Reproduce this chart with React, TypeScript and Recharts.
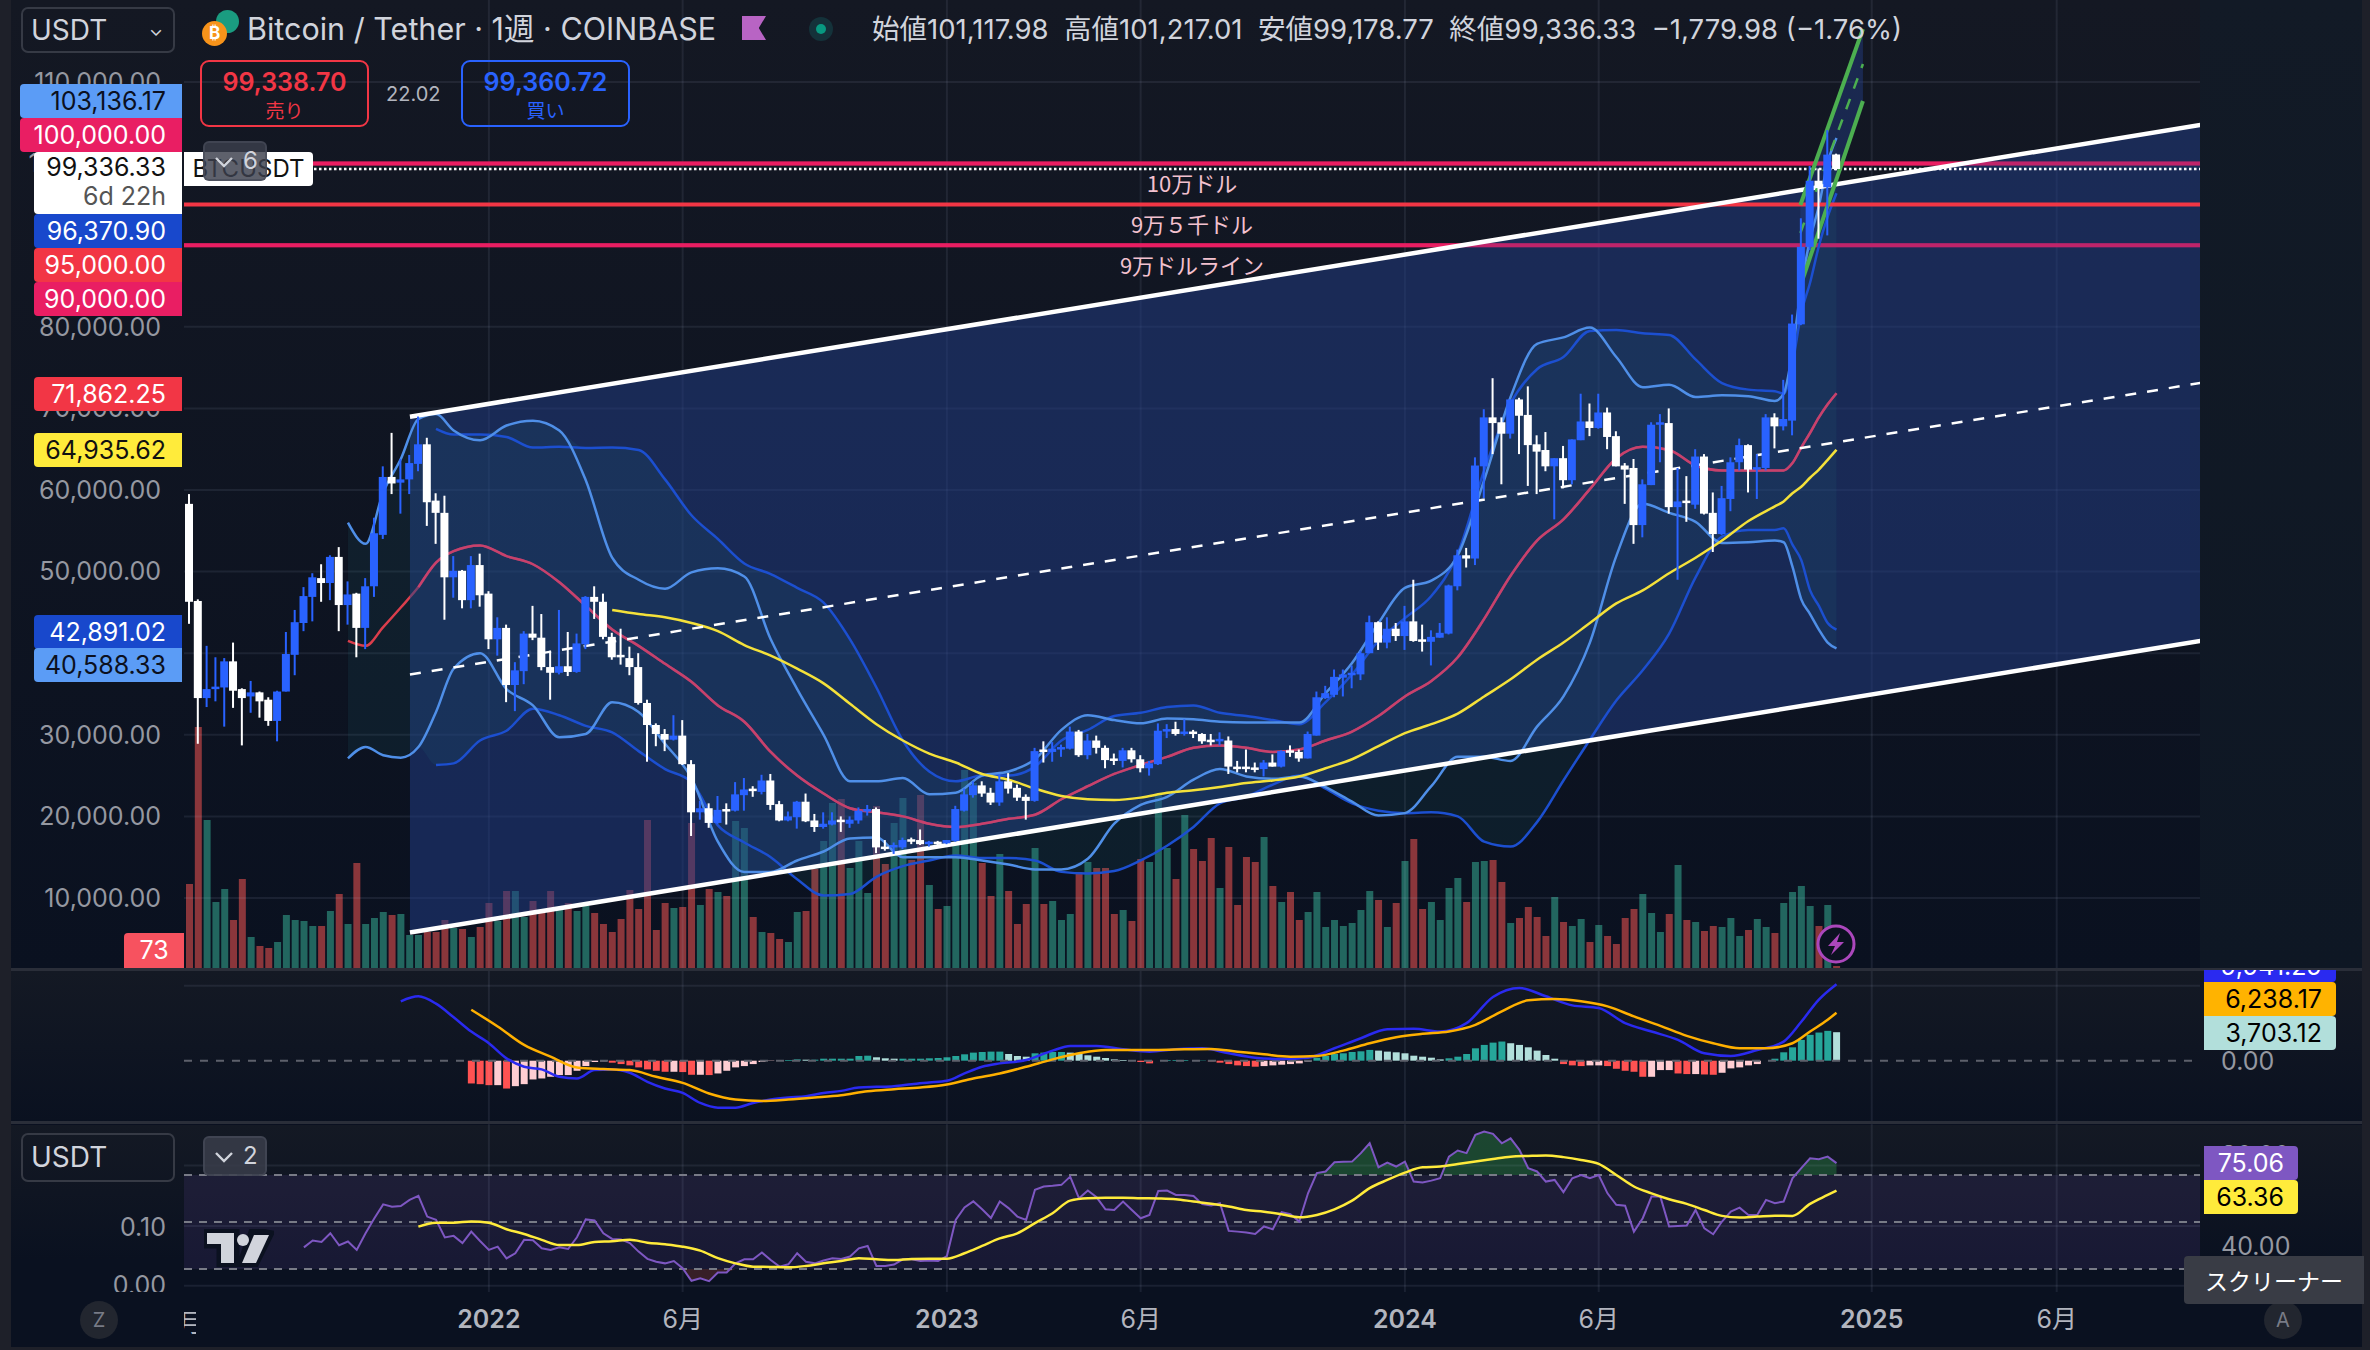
import { Bar, ComposedChart, Area, Line, ReferenceArea, ReferenceLine, XAxis, YAxis } from "recharts";

const uiFont = "Inter, 'Noto Sans CJK JP', sans-serif";
const jpFont = "'Noto Sans CJK JP', sans-serif";

// weekly candles, May 2021 to Dec 2024
const opens = [
  58300, 46400, 34500, 35800, 35800, 39000, 35600, 34700, 35200, 34300, 31700, 35300, 39800, 43700, 46900, 49200, 48600, 51800, 45900, 47300,
  43100, 48200, 54500, 61600, 60900, 61300, 63200, 65600, 58700, 57200, 49300, 50100, 46500, 50800, 47300, 41700, 43100, 36100, 37800, 42400,
  41900, 38300, 37600, 38400, 37700, 41100, 46900, 46300, 42000, 39800, 39400, 38300, 33900, 31200, 30100, 29400, 29900, 26400, 20500, 21000,
  19200, 20900, 20700, 22600, 23400, 23000, 24400, 21500, 19500, 19900, 21800, 19500, 18700, 19000, 19600, 19100, 19500, 20700, 20900, 16300,
  16200, 16200, 17200, 17100, 16600, 16900, 16700, 17000, 20700, 22600, 23800, 22900, 21700, 24300, 23500, 22400, 21900, 28200, 27900, 28200,
  28300, 30400, 27500, 29300, 28400, 27100, 26800, 28100, 27000, 25900, 26400, 30400, 30700, 30100, 30400, 30100, 29400, 29200, 29300, 26100,
  26100, 26000, 25800, 26600, 26100, 28100, 27900, 27100, 29900, 34500, 34900, 37000, 37300, 37400, 40000, 43800, 41300, 43000, 42100, 43900,
  41700, 41400, 41900, 42400, 48200, 52000, 51600, 62900, 68900, 68300, 66900, 71100, 69200, 65600, 64900, 62900, 63900, 61200, 66100, 68400,
  67600, 69500, 66600, 63000, 62700, 55700, 60600, 68000, 68200, 57900, 58700, 58200, 64100, 57200, 54600, 58900, 63400, 65500, 62600, 62700,
  68900, 67800, 68500, 80300, 89800, 97900, 97100, 101118,
];
const highs = [
  59500, 46600, 40900, 39500, 39400, 41300, 35700, 36600, 35300, 34600, 35400, 42600, 45300, 48100, 49800, 50900, 52000, 53000, 48800, 47400,
  49200, 56600, 62900, 67000, 63800, 64300, 69000, 66400, 59600, 59300, 51900, 50200, 51900, 52200, 47600, 44400, 43500, 38900, 42700, 45800,
  44800, 40300, 45300, 42600, 42400, 47000, 48200, 47300, 42500, 43000, 40800, 40000, 34300, 31400, 30700, 32400, 31800, 26900, 21900, 21600,
  22500, 21600, 24200, 24700, 23700, 25100, 25200, 21900, 20600, 21900, 22800, 20300, 20500, 20500, 20000, 20000, 21100, 21400, 21100, 17100,
  16800, 17400, 17400, 18400, 17000, 17000, 17100, 21300, 23400, 24300, 24300, 23500, 25200, 25300, 23900, 22700, 28400, 29200, 29100, 28800,
  31000, 30600, 30100, 29900, 28700, 27700, 28400, 28400, 27500, 26800, 31400, 31300, 31600, 31900, 30600, 30200, 30100, 30300, 29800, 26800,
  28200, 26600, 26900, 27600, 28100, 28700, 28200, 30400, 35300, 36000, 38000, 38000, 38500, 40300, 44600, 43900, 44400, 43700, 45800, 49000,
  43500, 42800, 43700, 48400, 52700, 52900, 64000, 69900, 73700, 68900, 71100, 71300, 72700, 66700, 67100, 63900, 65400, 66200, 71800, 70600,
  71800, 70100, 67200, 63300, 63800, 61300, 68300, 69300, 70000, 62700, 61700, 65000, 64400, 59700, 60500, 64000, 66300, 65600, 64400, 69300,
  69400, 73500, 81500, 93300, 99700, 99400, 104100, 101217,
];
const lows = [
  43600, 28900, 33400, 34100, 31000, 33300, 28700, 32700, 32100, 31100, 29200, 35300, 37300, 42700, 43900, 46300, 46500, 42700, 43500, 39500,
  40500, 46900, 54000, 59500, 57100, 59500, 62300, 55600, 53400, 44100, 46800, 45500, 45500, 45700, 40500, 39700, 34000, 32900, 36200, 41600,
  37900, 34300, 37400, 37200, 37600, 40500, 44200, 41700, 39200, 38600, 37300, 33700, 26700, 28600, 28000, 29300, 26300, 17600, 19600, 18600,
  19100, 19000, 20600, 20700, 22400, 22700, 20800, 19400, 19400, 18500, 19300, 18100, 18500, 18900, 18100, 18600, 19100, 20100, 15500, 15800,
  15400, 16000, 16600, 16500, 16300, 16400, 16600, 16900, 20600, 22300, 22400, 21400, 21300, 22800, 21900, 19600, 21800, 26600, 26700, 27300,
  28200, 27300, 27000, 27700, 25900, 26300, 26000, 26600, 25400, 25000, 26300, 29600, 29900, 29900, 29600, 28900, 28700, 28700, 25200, 25400,
  25400, 25400, 24900, 26100, 26000, 27300, 26700, 27100, 29900, 34400, 34600, 34700, 35700, 36700, 40000, 40400, 40600, 41500, 40400, 41400,
  40200, 38500, 41900, 42300, 47700, 50500, 50800, 59000, 64400, 60700, 66300, 64400, 60500, 59500, 62300, 56400, 60200, 60700, 66100, 66600,
  67500, 65000, 62900, 58300, 53400, 54200, 60600, 63400, 57100, 49000, 56100, 57700, 57000, 52400, 54500, 57400, 62400, 59700, 58900, 62400,
  65100, 67300, 66700, 80200, 89400, 90800, 91200, 99179,
];
const closes = [
  46300, 34500, 35600, 35900, 39000, 35400, 34500, 35200, 34100, 31700, 35300, 39900, 43800, 47000, 49300, 48600, 51800, 45900, 47200, 43100,
  48200, 54700, 61600, 60800, 61300, 63300, 65600, 58500, 57200, 49300, 50100, 46500, 50800, 47100, 41700, 43100, 36100, 37900, 42400, 41900,
  38300, 37600, 38400, 37700, 41200, 46900, 46300, 42000, 39500, 39600, 38300, 33900, 31200, 30100, 29400, 29900, 26400, 20500, 21000, 19200,
  20800, 20800, 22700, 23300, 23300, 24400, 21400, 19500, 20000, 21800, 19400, 18700, 19100, 19500, 19500, 19600, 20700, 20900, 16200, 16200,
  16500, 17100, 17100, 16600, 16900, 16700, 17100, 20900, 22700, 23800, 22800, 21700, 24300, 23400, 22300, 21900, 28000, 27900, 28300, 28500,
  30400, 27500, 29300, 28400, 26900, 26900, 28100, 27000, 25900, 26500, 30500, 30700, 30100, 30400, 30200, 29200, 29200, 29500, 26100, 26000,
  26000, 25900, 26600, 26100, 28000, 28000, 27100, 30100, 34600, 35100, 37100, 37400, 37600, 40000, 43800, 41300, 43000, 42100, 43900, 41500,
  41500, 42000, 42500, 48300, 52000, 51600, 63000, 68900, 68200, 66900, 71100, 69100, 65500, 64700, 62900, 63900, 61200, 66200, 68400, 67600,
  69500, 66500, 62900, 62500, 55700, 60700, 68000, 68300, 57900, 58600, 58400, 64100, 57100, 54600, 59000, 63400, 65500, 62500, 62800, 68900,
  67800, 68700, 80400, 89800, 97900, 97000, 101100, 99336.33,
];
const volumes = [
  84, 241, 148, 66, 79, 48, 89, 31, 22, 20, 26, 53, 48, 47, 42, 42, 57, 74, 44, 105,
  44, 50, 56, 53, 54, 33, 33, 36, 36, 48, 40, 39, 31, 41, 65, 47, 77, 77, 51, 67,
  55, 77, 58, 65, 57, 62, 55, 44, 36, 49, 78, 59, 148, 38, 65, 60, 61, 145, 63, 79,
  76, 72, 147, 140, 51, 36, 35, 29, 26, 56, 57, 99, 127, 165, 169, 100, 127, 75, 162, 104,
  145, 170, 108, 173, 83, 59, 62, 125, 198, 185, 105, 72, 114, 77, 44, 64, 120, 64, 67, 48,
  54, 96, 106, 100, 100, 54, 58, 47, 109, 106, 173, 120, 89, 153, 119, 107, 130, 80, 121, 63,
  111, 106, 131, 82, 66, 76, 48, 56, 76, 41, 48, 42, 45, 58, 77, 68, 41, 65, 107, 129,
  59, 66, 48, 80, 90, 66, 106, 107, 108, 86, 45, 50, 61, 51, 32, 71, 46, 42, 49, 26,
  43, 32, 24, 50, 59, 74, 55, 36, 54, 103, 48, 46, 37, 42, 41, 50, 32, 38, 49, 41,
  35, 65, 76, 82, 62, 42, 63, 2,
];

// bollinger bands and moving averages, read every few weeks
const bandWeeks = [
  18, 20, 22, 24, 26, 28, 30, 33, 36, 39, 42, 45, 48, 51, 54, 57, 60, 63, 66, 69, 72, 75, 78, 81, 84, 87, 90, 93, 96, 99, 102, 105,
  108, 111, 114, 117, 120, 123, 126, 129, 132, 135, 138, 141, 144, 147, 150, 153, 156, 159, 162, 165, 168, 171, 174, 177, 180, 181, 182, 183, 184, 185, 186, 187,
];
const bbUpperA = [
  56000, 53400, 59700, 63800, 68700, 69300, 67300, 66100, 67900, 68500, 67300, 61200, 51700, 49000, 47900, 49900, 50400, 49400, 41700, 35600, 30000, 24300, 24300, 24700, 22700, 22900, 25000, 25500, 27000, 30600, 32400, 31800,
  31400, 32000, 31900, 31600, 31500, 31500, 31500, 35100, 38800, 43700, 48000, 48900, 52000, 61200, 71400, 77900, 78700, 79900, 76300, 72600, 72900, 71400, 71600, 71500, 70900, 71800, 77000, 85000, 90700, 94800, 100100, 103136,
];
const bbLowerA = [
  27100, 28500, 27500, 27200, 28500, 32800, 38100, 40000, 35600, 33600, 29700, 30100, 34000, 32800, 28900, 24700, 16900, 13200, 13200, 14600, 15700, 17300, 17400, 15000, 15000, 15000, 14600, 14100, 13500, 13500, 14800, 19100,
  21400, 22400, 24500, 25800, 24900, 24600, 24900, 23600, 21800, 20100, 20400, 23700, 27300, 27300, 26800, 31000, 34700, 41300, 51900, 58300, 57200, 56100, 53500, 53600, 53800, 53600, 50600, 46600, 44800, 42900, 41300, 40588,
];
const bbUpperB = [
  null, null, null, null, null, 67500, 66800, 66800, 66500, 65200, 65300, 65150, 65200, 64900, 61300, 56900, 54000, 51000, 49700, 48000, 46200, 41700, 35800, 29300, 25500, 24300, 25000, 25000, 26100, 29300, 30600, 32300,
  32700, 33400, 33600, 32700, 32300, 31800, 31300, 34000, 37400, 41500, 44300, 47000, 52200, 62400, 70600, 74800, 76300, 79500, 79600, 79200, 79000, 76000, 73100, 72300, 72100, 71800, 75500, 81700, 85400, 89900, 93500, 96371,
];
const bbLowerB = [
  null, null, null, null, null, 26300, 26500, 29300, 30500, 33200, 32400, 31100, 30300, 28000, 25800, 24200, 18900, 16800, 15000, 12300, 10300, 10500, 12600, 13900, 14600, 15200, 14900, 14900, 14600, 13200, 13000, 13300,
  14600, 16400, 18700, 21600, 22400, 23900, 25000, 23400, 21600, 20700, 20400, 20500, 20000, 16900, 16300, 19300, 24400, 29400, 34200, 37900, 42400, 49300, 54300, 55100, 55100, 55300, 53300, 51400, 47700, 45800, 43700, 42891,
];
const basis = [
  41500, 40900, 43200, 45600, 48100, 51100, 52500, 53200, 51900, 50900, 48700, 45800, 42900, 40900, 38700, 36500, 33600, 31600, 27900, 25000, 22800, 21000, 20500, 20000, 19100, 18700, 19100, 19700, 20200, 22100, 23700, 25200,
  26300, 27300, 28400, 28700, 28400, 27900, 28200, 29300, 30400, 32300, 34700, 36600, 39500, 44200, 49500, 53800, 56400, 60100, 63900, 65300, 64900, 63000, 62400, 62400, 62400, 62400, 63300, 65200, 67000, 68900, 70500, 71862,
];
const slowMaWeeks = [
  48, 51, 54, 57, 60, 63, 66, 69, 72, 75, 78, 81, 84, 87, 90, 93, 96, 99, 102, 105, 108, 111, 114, 117, 120, 123, 126, 129, 132, 135,
  138, 141, 144, 147, 150, 153, 156, 159, 162, 165, 168, 171, 174, 177, 180, 181, 182, 183, 184, 185, 186, 187,
];
const slowMa = [
  45300, 44800, 44400, 43700, 42700, 41000, 39700, 38100, 36300, 33800, 31300, 29300, 27700, 26600, 25200, 24500, 23400, 22500, 22100, 22000, 22300, 22900, 23200, 23600, 24100, 24400, 24900, 25900, 27000, 28600,
  30200, 31300, 32600, 34700, 36800, 39200, 41300, 43700, 46100, 47700, 49800, 51700, 53800, 56200, 58000, 58600, 59600, 60400, 61500, 62500, 63700, 64936,
];

// regression channel and the short green one at the end
const channelWeeks = [25.04, 228.3];
const channelTop = [68983, 104730];
const channelMid = [37377, 73113];
const channelBottom = [5760, 41495];
const flagWeeks = [182.9, 190];
const flagTop = [94926, 116500];
const flagMid = [91495, 112200];
const flagBottom = [85000, 107672];

const priceTicks = [110000, 100000, 90000, 80000, 70000, 60000, 50000, 40000, 30000, 20000, 10000];
const timeTicks = [34, 56, 86, 108, 138, 160, 191, 212];
const timeLabels = ["2022", "6月", "2023", "6月", "2024", "6月", "2025", "6月"];
const levelLines = [100000, 95000, 90000];
const levelNames = ["10万ドル", "9万５千ドル", "9万ドルライン"];

// MACD
const macdWeeks = [
  24, 26, 28, 30, 32, 34, 36, 38, 40, 42, 44, 46, 48, 50, 52, 54, 56, 58, 60, 62, 64, 66, 68, 70, 72, 74, 76, 78, 80, 82, 84, 86, 88, 90, 92,
  95, 98, 100, 103, 106, 109, 112, 115, 118, 121, 124, 127, 130, 133, 136, 139, 142, 145, 148, 151, 154, 157, 160, 163, 166, 169, 172, 175, 178, 181, 183, 185, 187,
];
const macdLine = [
  7719, 8370, 7413, 5650, 3780, 2267, 305, -785, -1134, -2093, -2311, -1221, -1134, -1570, -2747, -3619, -4186, -5493, -6104, -6104, -5493, -5058, -4796, -4622, -4186, -3924, -3488, -3401, -3314, -3052, -2834, -2616, -1657, -785, -349,
  87, 1308, 1918, 1918, 1482, 1177, 1482, 1613, 959, 392, 218, 392, 1613, 2921, 4098, 4142, 3793, 4883, 8283, 9461, 8370, 7194, 6845, 4883, 3793, 2703, 959, 610, 1395, 2485, 5058, 7934, 9941,
];
const signalWeeks = [
  32, 35, 38, 41, 44, 47, 50, 53, 56, 59, 62, 65, 68, 71, 74, 77, 80, 83, 86, 89, 92, 95, 98, 101, 104, 107, 110, 113, 116, 119, 122, 125, 128, 131, 134, 137,
  140, 143, 146, 149, 152, 155, 158, 161, 164, 167, 170, 173, 176, 179, 182, 184, 186, 187,
];
const signalLine = [
  6627, 4447, 2049, 523, -872, -1090, -1221, -2093, -2878, -4273, -5058, -5232, -5058, -4796, -4491, -3968, -3706, -3488, -3096, -2311, -1657, -785, 174, 959, 1395, 1395, 1395, 1482, 1526, 1177, 828, 523, 610, 1308, 2267, 3052,
  3488, 3793, 4665, 6409, 7848, 8022, 7717, 7063, 5755, 4534, 3226, 2267, 1613, 1613, 2267, 3793, 5319, 6238,
];
const macdHist = [
  -2960, -3050, -3180, -3180, -3620, -3310, -3050, -2440, -2310, -2090, -1870, -1870, -1310, -700, -170, -90, -260, -440, -610, -870, -1130, -1310, -1440, -1440, -1480, -1830, -1830, -1870, -1660, -1310, -870, -700, -440, -170, -40,
  90, 90, 170, 130, 130, 260, 260, 260, 260, 610, 650, 440, 310, 260, 260, 260, 260, 310, 350, 440, 610, 830, 1050, 1130, 1180,
  1180, 870, 610, 520, 960, 1050, 1130, 1130, 1050, 870, 700, 520, 350, 170, 90, 40, -170, -350, 0, 90, 90, 90, 0, 40, -90, -260, -440, -610, -700, -780, -700, -610, -520, -440, -350, -130,
  390, 610, 870, 960, 1130, 1220, 1400, 1310, 1180, 1090, 960, 650, 520, 390, 170, 310, 520, 870, 1610, 2050, 2350, 2490, 2270, 2050, 1740, 1310, 740, 260,
  -440, -610, -700, -610, -610, -700, -1050, -1310, -1440, -2090, -2090, -1220, -1220, -1660, -1740, -1740, -1790, -1830, -1570, -1000, -870, -610, -440, 0, 260, 1090, 1740, 2700, 3360, 3660, 3880, 3703,
];

// RSI and its average
const rsiValues = [
  39.2, 42.1, 41.5, 45.2, 40.1, 41.7, 38.1, 45.2, 51.6, 57.5, 56.5, 56.8, 59.4, 61.1, 52.3, 50.9, 43.4, 44.1, 41, 45.9, 41.9, 38.1, 39.5, 34.5, 36.7, 42.4, 42.2, 38.8, 38.1, 39.2, 38.5, 43.5, 51.1, 50.7, 45.2, 42.8, 42.6, 41, 37.4, 34.3,
  33.1, 32.4, 33.4, 30.3, 25, 26, 24.8, 28.5, 28.5, 32.4, 34.1, 34.1, 37, 33.8, 31, 32, 36.7, 33.1, 32.4, 33.6, 34.6, 34.3, 35.3, 38.8, 39.8, 31.3, 31.3, 31.9, 34.1, 34.1, 33.4, 33.6, 33.4, 35.5, 50.9, 56.2, 58.8, 55.4, 51.7, 58.7,
  55.9, 52.3, 50.9, 63.7, 65.1, 65.4, 65.8, 69.3, 60.1, 63.4, 60.5, 55.4, 55.1, 58.7, 55.1, 51.6, 53, 63.2, 63.4, 61.5, 61.5, 61.1, 57.6, 57, 58, 46.2, 45.9, 45.5, 44.9, 48.1, 46.9, 54.2, 53.3, 50.2, 62.2, 70.8, 71.5, 75.4, 75.6, 75.7,
  79.3, 83.5, 73.3, 75.3, 73.6, 75.7, 67.2, 66.8, 67.6, 68.6, 77.8, 80.4, 79.3, 87.1, 88.5, 87.5, 83.5, 85.6, 80.7, 72.9, 71.5, 67.2, 67.9, 62.7, 68.6, 70, 68.6, 70, 62.2, 57.3, 56.9, 45.9, 51.6, 60.8, 60.8, 48.1, 48.3, 48.5, 55.1, 47.3,
  44.8, 50.2, 54.4, 56.1, 53, 53, 59.4, 58, 58.7, 68.6, 72.9, 77.1, 76.7, 77.8, 75.06,
];
const rsiMaWeeks = [
  26, 28, 30, 32, 34, 36, 38, 40, 42, 44, 46, 48, 50, 52, 54, 56, 58, 60, 62, 64, 66, 68, 70, 72, 74, 76, 78, 80, 82, 84, 86, 88, 90, 92, 94, 96, 98, 100, 102, 104, 106,
  108, 110, 112, 114, 116, 118, 120, 122, 124, 126, 128, 130, 132, 134, 136, 138, 140, 142, 144, 146, 148, 150, 152, 154, 156, 158, 160, 162, 164, 166, 168, 170, 172, 174, 176, 178, 180, 182, 184, 186, 187,
];
const rsiMa = [
  48, 49.7, 49.7, 50.2, 49.7, 46.9, 44.9, 42.4, 40.2, 40.2, 41.5, 41.8, 42.4, 41.2, 40.5, 39.5, 37.8, 34.6, 32.4, 31, 30.9, 30.7, 31.3, 32.4, 33.4, 34.6, 34.1, 33.8, 34.3, 34.4, 34.4, 36.7, 39.8, 43, 45.2, 49.5, 53.7, 59.1, 60.1, 60.3, 60.3,
  60.1, 60, 59.7, 58.7, 57.8, 56.6, 55.1, 54.4, 53.3, 52, 53, 55.4, 59.1, 64.4, 67.9, 71, 73.3, 73.6, 74.7, 75.7, 76.8, 77.8, 78.1, 78.3, 77.6, 76.4, 74.7, 70, 65.1, 62.2, 59.7, 57.7, 55.1, 52.6, 51.9, 52.3, 52.7, 52.6, 57.7, 61.5, 63.36,
];

// tables for the library
const candleRows = opens.map((open, week) => ({
  week,
  open,
  close: closes[week],
  range: [lows[week], highs[week]],
  volume: volumes[week],
}));
const bandPairs = (vals: (number | null)[]) =>
  bandWeeks.map((week, k) => ({ week, v: vals[k] })).filter((p) => p.v !== null);
const zipPairs = (weeks: number[], vals: number[]) => weeks.map((week, k) => ({ week, v: vals[k] }));
const bandRows = bandWeeks.map((week, k) => ({
  week,
  range: [
    Math.min(bbLowerA[k], bbLowerB[k] ?? bbLowerA[k]),
    Math.max(bbUpperA[k], bbUpperB[k] ?? bbUpperA[k]),
  ],
}));
const channelRows = channelWeeks.map((week, k) => ({
  week,
  range: [channelBottom[k], channelTop[k]],
  top: channelTop[k],
  mid: channelMid[k],
  bottom: channelBottom[k],
}));
const flagRows = flagWeeks.map((week, k) => ({
  week,
  range: [flagBottom[k], flagTop[k]],
  top: flagTop[k],
  mid: flagMid[k],
  bottom: flagBottom[k],
}));
const histRows = macdHist.map((v, k) => ({
  week: 187 - (macdHist.length - 1 - k),
  v,
  prev: k ? macdHist[k - 1] : 0,
}));
const rsiRows = rsiValues.map((v, k) => ({
  week: 187 - (rsiValues.length - 1 - k),
  v,
  over: [70, Math.max(70, v)],
  under: [Math.min(30, v), 30],
}));

const weekDomain: [number, number] = [-0.613, 228.27];
const priceDomain: [number, number] = [1421, 120049];
const gridColor = "rgba(190,200,230,0.09)";

function CandleShape({ x, y, width, height, payload }: any) {
  const [low, high] = payload.range;
  const perPrice = height / (high - low);
  const up = payload.close >= payload.open;
  const color = up ? "#2962ff" : "#ffffff";
  const bodyTop = y + (high - Math.max(payload.open, payload.close)) * perPrice;
  const bodyH = Math.max(2.5, Math.abs(payload.open - payload.close) * perPrice);
  const cx = x + width / 2;
  return (
    <g>
      <rect x={cx - 1} y={y} width={2} height={height} fill={color} />
      <rect x={cx - 4} y={bodyTop} width={8} height={bodyH} fill={color} />
    </g>
  );
}

function VolumeShape({ x, y, width, height, payload }: any) {
  const fill = payload.close >= payload.open ? "#22665f" : "#8a363b";
  return <rect x={x} y={y} width={width} height={height} fill={fill} />;
}

function HistShape({ x, y, width, height, payload }: any) {
  const { v, prev } = payload;
  const fill = v >= 0 ? (v >= prev ? "#26a69a" : "#b2dfdb") : v < prev ? "#ff5252" : "#ffcdd2";
  return <rect x={x} y={Math.min(y, y + height)} width={width} height={Math.abs(height)} fill={fill} />;
}

function TimeTick({ x, y, payload }: any) {
  const k = timeTicks.indexOf(payload.value);
  const label = timeLabels[k];
  const isYear = label.length === 4;
  return (
    <text
      x={x}
      y={y + 28}
      textAnchor="middle"
      fill="#b2b5be"
      fontSize={25}
      fontWeight={isYear ? 600 : 400}
      fontFamily={uiFont}
    >
      {label}
    </text>
  );
}

function Tag({ top, left = 34, height = 34, bg, color = "#fff", children }: any) {
  return (
    <div
      style={{
        position: "absolute",
        left,
        top,
        width: 182 - left,
        height,
        background: bg,
        color,
        font: `25px ${uiFont}`,
        lineHeight: height + "px",
        textAlign: "right",
        paddingRight: 16,
        boxSizing: "border-box",
        borderRadius: "4px 0 0 4px",
      }}
    >
      {children}
    </div>
  );
}

function RightTag({ top, width, bg, color = "#000", children }: any) {
  return (
    <div
      style={{
        position: "absolute",
        left: 2204,
        top,
        width,
        height: 34,
        background: bg,
        color,
        font: `25px ${uiFont}`,
        lineHeight: "34px",
        textAlign: "right",
        paddingRight: 14,
        boxSizing: "border-box",
        borderRadius: "0 4px 4px 0",
      }}
    >
      {children}
    </div>
  );
}

function Fold({ left, top, count }: any) {
  return (
    <div
      style={{
        position: "absolute",
        left,
        top,
        width: 64,
        height: 40,
        background: "rgba(58,62,76,0.82)",
        border: "2px solid rgba(70,74,88,0.7)",
        boxSizing: "border-box",
        borderRadius: 6,
        color: "#d1d4dc",
        font: `24px ${uiFont}`,
        lineHeight: "36px",
      }}
    >
      <svg width={20} height={12} style={{ position: "absolute", left: 9, top: 13 }}>
        <polyline points="2,2 10,10 18,2" fill="none" stroke="#d1d4dc" strokeWidth={2.4} />
      </svg>
      <span style={{ position: "absolute", left: 38 }}>{count}</span>
    </div>
  );
}

function PriceLayer({ children, labelled = false }: any) {
  return (
    <div style={{ position: "absolute", left: 0, top: 0 }}>
      <ComposedChart
        width={2370}
        height={968}
        data={candleRows}
        margin={{ top: 0, right: 170, bottom: 0, left: labelled ? 0 : 184 }}
        barGap={0}
      >
        <XAxis dataKey="week" type="number" domain={weekDomain} allowDataOverflow hide />
        <YAxis
          yAxisId="p"
          type="number"
          domain={priceDomain}
          allowDataOverflow
          ticks={priceTicks}
          hide={!labelled}
          width={184}
          axisLine={false}
          tickLine={false}
          tickMargin={17}
          tick={{ fill: "#9598a1", fontSize: 25, fontFamily: uiFont }}
          tickFormatter={(v: number) => v.toLocaleString("en-US", { minimumFractionDigits: 2 })}
        />
        {children}
      </ComposedChart>
    </div>
  );
}

export default function App() {
  return (
    <div style={{ position: "absolute", left: 0, top: 0, width: 2370, height: 1350, overflow: "hidden", background: "#0a1020" }}>
      {/* pane backgrounds */}
      <div style={{ position: "absolute", left: 0, top: 0, width: 2370, height: 968, background: "linear-gradient(#141823, #0a1120)" }} />
      <div style={{ position: "absolute", left: 0, top: 971, width: 2370, height: 151, background: "linear-gradient(#141924, #0a1120)" }} />
      <div style={{ position: "absolute", left: 0, top: 1125, width: 2370, height: 225, background: "linear-gradient(#141924, #0a1120 60%)" }} />
      <div style={{ position: "absolute", left: 2200, top: 0, width: 170, height: 968, background: "linear-gradient(#121a26, #0e1724)" }} />

      {/* volume, grid and the levels that sit under the channel */}
      <PriceLayer labelled>
        <YAxis yAxisId="vol" type="number" domain={[0, 968]} allowDataOverflow hide />
        {priceTicks.map((p) => (
          <ReferenceLine key={p} yAxisId="p" y={p} stroke={gridColor} strokeWidth={2} />
        ))}
        {timeTicks.map((w) => (
          <ReferenceLine key={w} yAxisId="p" x={w} stroke={gridColor} strokeWidth={2} />
        ))}
        <ReferenceLine yAxisId="p" y={levelLines[0]} stroke="#e91e63" strokeWidth={4} />
        <ReferenceLine yAxisId="p" y={levelLines[2]} stroke="#e91e63" strokeWidth={4} />
        <Bar yAxisId="vol" dataKey="volume" barSize={7} shape={VolumeShape} isAnimationActive={false} />
        <Line yAxisId="p" data={bandPairs(basis)} dataKey="v" type="monotone" stroke="#f23645" strokeWidth={2.5} dot={false} isAnimationActive={false} />
      </PriceLayer>

      {/* channel and band fills, then the band lines */}
      <PriceLayer>
        <Area yAxisId="p" data={channelRows} dataKey="range" type="linear" fill="rgb(35,62,135)" fillOpacity={0.52} stroke="none" isAnimationActive={false} />
        <Area yAxisId="p" data={bandRows} dataKey="range" type="monotone" fill="rgb(40,125,135)" fillOpacity={0.11} stroke="none" isAnimationActive={false} />
        <Area yAxisId="p" data={flagRows} dataKey="range" type="linear" fill="rgb(35,62,135)" fillOpacity={0.45} stroke="none" isAnimationActive={false} />
        <ReferenceLine yAxisId="p" y={levelLines[0]} stroke="#e91e63" strokeWidth={4} strokeOpacity={0.6} />
        <ReferenceLine yAxisId="p" y={levelLines[2]} stroke="#e91e63" strokeWidth={4} strokeOpacity={0.6} />
        <Line yAxisId="p" data={bandPairs(basis).filter((p) => p.week >= 26)} dataKey="v" type="monotone" stroke="#c8416c" strokeWidth={2.5} dot={false} isAnimationActive={false} />
        <Line yAxisId="p" data={bandPairs(bbUpperB)} dataKey="v" type="monotone" stroke="#1c4fd0" strokeWidth={2.5} dot={false} isAnimationActive={false} />
        <Line yAxisId="p" data={bandPairs(bbLowerB)} dataKey="v" type="monotone" stroke="#1c4fd0" strokeWidth={2.5} dot={false} isAnimationActive={false} />
        <Line yAxisId="p" data={bandPairs(bbUpperA)} dataKey="v" type="monotone" stroke="#4f8fe8" strokeWidth={2.5} dot={false} isAnimationActive={false} />
        <Line yAxisId="p" data={bandPairs(bbLowerA)} dataKey="v" type="monotone" stroke="#4f8fe8" strokeWidth={2.5} dot={false} isAnimationActive={false} />
        <Line yAxisId="p" data={zipPairs(slowMaWeeks, slowMa)} dataKey="v" type="monotone" stroke="#f4e13a" strokeWidth={2.5} dot={false} isAnimationActive={false} />
      </PriceLayer>

      {/* channel outlines, level labels, green flag */}
      <PriceLayer>
        <ReferenceLine
          yAxisId="p"
          y={levelLines[0]}
          stroke="none"
          label={{ value: levelNames[0], position: "bottom", offset: 13, fill: "#f3c1cf", fontSize: 22, fontFamily: jpFont }}
        />
        <ReferenceLine
          yAxisId="p"
          y={levelLines[1]}
          stroke="#f23645"
          strokeWidth={4}
          label={{ value: levelNames[1], position: "bottom", offset: 13, fill: "#f3c1cf", fontSize: 22, fontFamily: jpFont }}
        />
        <ReferenceLine
          yAxisId="p"
          y={levelLines[2]}
          stroke="none"
          label={{ value: levelNames[2], position: "bottom", offset: 13, fill: "#f3c1cf", fontSize: 22, fontFamily: jpFont }}
        />
        <ReferenceLine yAxisId="p" y={closes[closes.length - 1]} stroke="#ffffff" strokeWidth={2.5} strokeDasharray="2.5 2.5" />
        <Line yAxisId="p" data={channelRows} dataKey="top" stroke="#ffffff" strokeWidth={4.5} dot={false} isAnimationActive={false} />
        <Line yAxisId="p" data={channelRows} dataKey="bottom" stroke="#ffffff" strokeWidth={4.5} dot={false} isAnimationActive={false} />
        <Line yAxisId="p" data={channelRows} dataKey="mid" stroke="#ffffff" strokeWidth={2.5} strokeDasharray="11 11" dot={false} isAnimationActive={false} />
        <Line yAxisId="p" data={flagRows} dataKey="top" stroke="#4caf50" strokeWidth={4} dot={false} isAnimationActive={false} />
        <Line yAxisId="p" data={flagRows} dataKey="bottom" stroke="#4caf50" strokeWidth={4} dot={false} isAnimationActive={false} />
        <Line yAxisId="p" data={flagRows} dataKey="mid" stroke="#4caf50" strokeWidth={2.5} strokeDasharray="11 11" dot={false} isAnimationActive={false} />
      </PriceLayer>

      {/* candles */}
      <PriceLayer>
        <Bar yAxisId="p" dataKey="range" barSize={8} shape={CandleShape} isAnimationActive={false} />
      </PriceLayer>

      {/* MACD */}
      <div style={{ position: "absolute", left: 0, top: 970 }}>
        <ComposedChart width={2370} height={152} data={histRows} margin={{ top: 0, right: 170, bottom: 0, left: 184 }}>
          <XAxis dataKey="week" type="number" domain={weekDomain} allowDataOverflow hide />
          <YAxis type="number" domain={[-7970, 11790]} allowDataOverflow hide />
          <ReferenceLine y={9750} stroke={gridColor} strokeWidth={2} />
          {timeTicks.map((w) => (
            <ReferenceLine key={w} x={w} stroke={gridColor} strokeWidth={2} />
          ))}
          <ReferenceLine y={0} stroke="#5d606b" strokeWidth={2} strokeDasharray="8 8" />
          <Bar dataKey="v" barSize={7} shape={HistShape} isAnimationActive={false} />
          <Line data={zipPairs(macdWeeks, macdLine)} dataKey="v" type="monotone" stroke="#2a2af0" strokeWidth={2.5} dot={false} isAnimationActive={false} />
          <Line data={zipPairs(signalWeeks, signalLine)} dataKey="v" type="monotone" stroke="#ffb000" strokeWidth={2.5} dot={false} isAnimationActive={false} />
        </ComposedChart>
      </div>

      {/* RSI */}
      <div style={{ position: "absolute", left: 0, top: 1122 }}>
        <ComposedChart width={2370} height={228} data={rsiRows} margin={{ top: 0, right: 170, bottom: 0, left: 184 }}>
          <XAxis
            dataKey="week"
            type="number"
            domain={weekDomain}
            allowDataOverflow
            ticks={timeTicks}
            height={58}
            axisLine={false}
            tickLine={false}
            interval={0}
            tick={TimeTick}
          />
          <YAxis type="number" domain={[20.21, 92.55]} allowDataOverflow hide />
          <ReferenceArea y1={30} y2={70} fill="#7e57c2" fillOpacity={0.13} stroke="none" />
          {[74, 48.3, 22.9].map((v) => (
            <ReferenceLine key={v} y={v} stroke={gridColor} strokeWidth={2} />
          ))}
          {timeTicks.map((w) => (
            <ReferenceLine key={w} x={w} stroke={gridColor} strokeWidth={2} />
          ))}
          {[70, 50, 30].map((v) => (
            <ReferenceLine key={v} y={v} stroke="#787b86" strokeWidth={2} strokeDasharray="8 7" />
          ))}
          <Area dataKey="over" type="linear" fill="#2e9d4a" fillOpacity={0.35} stroke="none" isAnimationActive={false} />
          <Area dataKey="under" type="linear" fill="#c04a3a" fillOpacity={0.25} stroke="none" isAnimationActive={false} />
          <Line dataKey="v" type="linear" stroke="#7e57c2" strokeWidth={2} dot={false} isAnimationActive={false} />
          <Line data={zipPairs(rsiMaWeeks, rsiMa)} dataKey="v" type="monotone" stroke="#ffeb3b" strokeWidth={2.5} dot={false} isAnimationActive={false} />
        </ComposedChart>
      </div>

      {/* pane dividers and frame */}
      <div style={{ position: "absolute", left: 0, top: 968, width: 2370, height: 3, background: "#2a2e39" }} />
      <div style={{ position: "absolute", left: 0, top: 1121, width: 2370, height: 3, background: "#2a2e39" }} />
      <div style={{ position: "absolute", left: 0, top: 0, width: 11, height: 1350, background: "#1e2029" }} />
      <div style={{ position: "absolute", left: 2362, top: 0, width: 8, height: 1350, background: "#1e2029" }} />
      <div style={{ position: "absolute", left: 0, top: 1347, width: 2370, height: 3, background: "#1e2029" }} />

      {/* header */}
      <div style={{ position: "absolute", left: 21, top: 7, width: 154, height: 46, border: "2px solid #363a45", borderRadius: 7, boxSizing: "border-box", color: "#d1d4dc", font: `28px ${uiFont}`, lineHeight: "42px", paddingLeft: 8 }}>
        USDT
        <span style={{ position: "absolute", right: 10, top: 0, fontSize: 18 }}>⌄</span>
      </div>
      <div style={{ position: "absolute", left: 216, top: 10, width: 23, height: 23, borderRadius: "50%", background: "#1a9c80" }} />
      <div style={{ position: "absolute", left: 202, top: 21, width: 25, height: 25, borderRadius: "50%", background: "#f7931a", color: "#fff", font: `bold 17px ${uiFont}`, lineHeight: "25px", textAlign: "center" }}>₿</div>
      <div style={{ position: "absolute", left: 247, top: 8, color: "#d1d4dc", font: `30.5px ${uiFont}`, lineHeight: "42px", whiteSpace: "nowrap" }}>
        Bitcoin / Tether · 1週 · COINBASE
      </div>
      <div style={{ position: "absolute", left: 742, top: 16, width: 24, height: 24, background: "#b864c4", clipPath: "polygon(0 0,100% 0,70% 50%,100% 100%,0 100%)" }} />
      <div style={{ position: "absolute", left: 809, top: 17, width: 24, height: 24, borderRadius: "50%", background: "#14323a" }} />
      <div style={{ position: "absolute", left: 816, top: 24, width: 10, height: 10, borderRadius: "50%", background: "#089981" }} />
      <div style={{ position: "absolute", left: 872, top: 10, color: "#d1d4dc", font: `27.5px ${uiFont}`, lineHeight: "38px", whiteSpace: "nowrap" }}>
        始値101,117.98&nbsp; 高値101,217.01&nbsp; 安値99,178.77&nbsp; 終値99,336.33&nbsp; −1,779.98 (−1.76%)
      </div>

      {/* order buttons */}
      <div style={{ position: "absolute", left: 200, top: 60, width: 169, height: 67, border: "2px solid #f23645", borderRadius: 9, boxSizing: "border-box", textAlign: "center", color: "#f23645" }}>
        <div style={{ font: `600 25px ${uiFont}`, lineHeight: "36px", marginTop: 2 }}>99,338.70</div>
        <div style={{ font: `19px ${jpFont}`, lineHeight: "20px" }}>売り</div>
      </div>
      <div style={{ position: "absolute", left: 386, top: 80, color: "#b2b5be", font: `20px ${uiFont}`, lineHeight: "28px" }}>22.02</div>
      <div style={{ position: "absolute", left: 461, top: 60, width: 169, height: 67, border: "2px solid #2962ff", borderRadius: 9, boxSizing: "border-box", textAlign: "center", color: "#2962ff" }}>
        <div style={{ font: `600 25px ${uiFont}`, lineHeight: "36px", marginTop: 2 }}>99,360.72</div>
        <div style={{ font: `19px ${jpFont}`, lineHeight: "20px" }}>買い</div>
      </div>

      {/* price tags */}
      <Tag top={84} left={20} bg="#5b9cf6" color="#0b1020">103,136.17</Tag>
      <Tag top={118} left={20} bg="#e91e63">100,000.00</Tag>
      <Tag top={152} height={62} bg="#ffffff" color="#111">
        <div style={{ lineHeight: "31px" }}>99,336.33</div>
        <div style={{ lineHeight: "27px", color: "#555" }}>6d 22h</div>
      </Tag>
      <Tag top={214} bg="#1848cc">96,370.90</Tag>
      <Tag top={248} bg="#f23645">95,000.00</Tag>
      <Tag top={282} bg="#e91e63">90,000.00</Tag>
      <Tag top={377} bg="#f23645">71,862.25</Tag>
      <Tag top={433} bg="#ffeb3b" color="#111">64,935.62</Tag>
      <Tag top={615} bg="#1848cc">42,891.02</Tag>
      <Tag top={648} bg="#5b9cf6" color="#0b1020">40,588.33</Tag>
      <div style={{ position: "absolute", left: 124, top: 933, width: 60, height: 35, background: "#f7525f", color: "#fff", font: `25px ${uiFont}`, lineHeight: "35px", textAlign: "center", borderRadius: "4px 0 0 0" }}>73</div>

      {/* symbol label with the fold button over it */}
      <div style={{ position: "absolute", left: 184, top: 152, width: 129, height: 34, background: "#fff", color: "#111", font: `24px ${uiFont}`, lineHeight: "34px", textAlign: "center", borderRadius: "0 4px 4px 0" }}>BTCUSDT</div>
      <Fold left={203} top={141} count={6} />

      {/* lightning badge */}
      <svg width={42} height={42} style={{ position: "absolute", left: 1815, top: 923 }}>
        <circle cx={21} cy={21} r={18} fill="#0b1120" stroke="#ab47bc" strokeWidth={3} />
        <polygon points="25,10 13,23 20,23 16,32 29,19 22,19" fill="#ab47bc" />
      </svg>

      {/* MACD scale */}
      <div style={{ position: "absolute", left: 2204, top: 970, width: 132, height: 12, overflow: "hidden", background: "#2a2af0", borderRadius: "0 0 4px 0", color: "#fff", font: `25px ${uiFont}` }}>
        <div style={{ position: "absolute", right: 14, bottom: -1, lineHeight: "34px" }}>9,941.29</div>
      </div>
      <RightTag top={982} width={132} bg="#ffb300">6,238.17</RightTag>
      <RightTag top={1016} width={132} bg="#b2dfdb">3,703.12</RightTag>
      <div style={{ position: "absolute", left: 2221, top: 1044, color: "#9598a1", font: `25px ${uiFont}`, lineHeight: "34px" }}>0.00</div>

      {/* RSI panel bits */}
      <div style={{ position: "absolute", left: 21, top: 1133, width: 154, height: 49, border: "2px solid #363a45", borderRadius: 7, boxSizing: "border-box", color: "#d1d4dc", font: `28px ${uiFont}`, lineHeight: "45px", paddingLeft: 8 }}>USDT</div>
      <Fold left={203} top={1136} count={2} />
      <div style={{ position: "absolute", left: 100, top: 1210, width: 66, textAlign: "right", color: "#9598a1", font: `25px ${uiFont}`, lineHeight: "34px" }}>0.10</div>
      <div style={{ position: "absolute", left: 100, top: 1268, width: 66, height: 24, overflow: "hidden", textAlign: "right", color: "#9598a1", font: `25px ${uiFont}`, lineHeight: "34px" }}>0.00</div>
      <svg width={70} height={38} style={{ position: "absolute", left: 204, top: 1229 }}>
        <path d="M0 0 H33 V36 H15 V17 H0 Z M48 0 L68 4 L52 36 L35 36 Z" fill="#0b1120" stroke="#0b1120" strokeWidth={5} />
        <path d="M3 4 H30 V34 H17 V15 H3 Z" fill="#d1d4dc" />
        <circle cx={39} cy={11} r={6} fill="#d1d4dc" />
        <path d="M50 6 H65 L52 34 H38 Z" fill="#d1d4dc" />
      </svg>
      <div style={{ position: "absolute", left: 2221, top: 1143, color: "#9598a1", font: `25px ${uiFont}`, lineHeight: "24px" }}>80.00</div>
      <RightTag top={1146} width={94} bg="#7e57c2" color="#fff">75.06</RightTag>
      <RightTag top={1180} width={94} bg="#ffeb3b">63.36</RightTag>
      <div style={{ position: "absolute", left: 2221, top: 1229, color: "#9598a1", font: `25px ${uiFont}`, lineHeight: "34px" }}>40.00</div>

      {/* bottom row */}
      <div style={{ position: "absolute", left: 184, top: 1304, width: 12, height: 34, overflow: "hidden", color: "#b2b5be", font: `25px ${jpFont}`, lineHeight: "34px" }}>
        <span style={{ position: "absolute", left: -6 }}>月</span>
      </div>
      <div style={{ position: "absolute", left: 80, top: 1301, width: 38, height: 38, borderRadius: "50%", background: "#22262f", color: "#787b86", font: `20px ${uiFont}`, lineHeight: "38px", textAlign: "center" }}>Z</div>
      <div style={{ position: "absolute", left: 2264, top: 1301, width: 38, height: 38, borderRadius: "50%", background: "#22262f", color: "#787b86", font: `20px ${uiFont}`, lineHeight: "38px", textAlign: "center" }}>A</div>
      <div style={{ position: "absolute", left: 2184, top: 1256, width: 180, height: 48, background: "#393c45", borderRadius: "4px 0 0 4px", color: "#fff", font: `23px ${jpFont}`, lineHeight: "48px", textAlign: "center" }}>スクリーナー</div>
    </div>
  );
}
